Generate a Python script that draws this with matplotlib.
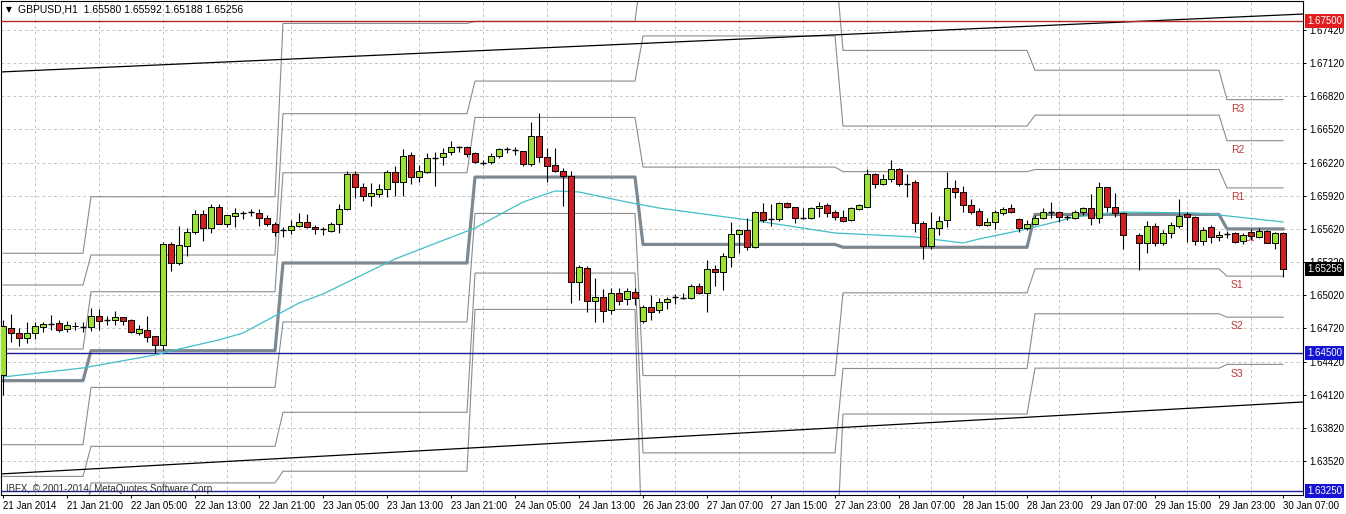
import numpy as np
import matplotlib.pyplot as plt
from matplotlib.transforms import blended_transform_factory

nan = np.nan

# GBPUSD H1 bars, 21 Jan 13:00 .. 30 Jan 07:00 (bar 141 missing)
opens = [
    1.64299, 1.64727, 1.64682, 1.64631, 1.64679, 1.64736, 1.64757, 1.64769, 1.64712, 1.64740,
    1.64736, 1.64731, 1.64836, 1.64797, 1.64797, 1.64821, 1.64797, 1.64682, 1.64706, 1.64652,
    1.64570, 1.65481, 1.65309, 1.65468, 1.65590, 1.65752, 1.65626, 1.65816, 1.65662, 1.65740,
    1.65761, 1.65770, 1.65761, 1.65722, 1.65662, 1.65610, 1.65610, 1.65649, 1.65680, 1.65635,
    1.65617, 1.65604, 1.65665, 1.65798, 1.66114, 1.65996, 1.65918, 1.65933, 1.65978, 1.66137,
    1.66047, 1.66289, 1.66087, 1.66137, 1.66264, 1.66268, 1.66313, 1.66358, 1.66364, 1.66304,
    1.66219, 1.66223, 1.66282, 1.66343, 1.66334, 1.66325, 1.66204, 1.66463, 1.66268, 1.66198,
    1.66144, 1.66101, 1.65138, 1.65264, 1.64971, 1.65002, 1.64887, 1.65038, 1.64986, 1.65052,
    1.64788, 1.64917, 1.64887, 1.64962, 1.65002, 1.64998, 1.64993, 1.65104, 1.65038, 1.65258,
    1.65228, 1.65369, 1.65574, 1.65610, 1.65460, 1.65776, 1.65707, 1.65707, 1.65852, 1.65816,
    1.65719, 1.65722, 1.65807, 1.65836, 1.65776, 1.65725, 1.65701, 1.65800, 1.65821, 1.66117,
    1.66024, 1.66069, 1.66159, 1.66026, 1.66047, 1.65671, 1.65468, 1.65626, 1.65701, 1.65987,
    1.65951, 1.65836, 1.65785, 1.65656, 1.65685, 1.65767, 1.65807, 1.65707, 1.65626, 1.65665,
    1.65716, 1.65776, 1.65770, 1.65725, 1.65716, 1.65776, 1.65807, 1.65716, 1.65996, 1.65816,
    1.65767, nan, 1.65565, 1.65490, 1.65647, 1.65490, 1.65580, 1.65650, 1.65755, 1.65725,
    1.65514, 1.65640, 1.65544, 1.65571, 1.65580, 1.65514, 1.65592, 1.65550, 1.65601, 1.65490,
    1.65580]
highs = [
    1.64797, 1.64851, 1.64724, 1.64779, 1.64779, 1.64779, 1.64842, 1.64797, 1.64788, 1.64779,
    1.64781, 1.64905, 1.64896, 1.64833, 1.64878, 1.64824, 1.64806, 1.64751, 1.64836, 1.64655,
    1.65505, 1.65505, 1.65647, 1.65631, 1.65791, 1.65791, 1.65845, 1.65845, 1.65746, 1.65807,
    1.65782, 1.65800, 1.65800, 1.65746, 1.65685, 1.65640, 1.65701, 1.65761, 1.65755, 1.65656,
    1.65640, 1.65685, 1.65843, 1.66144, 1.66144, 1.66033, 1.66033, 1.66024, 1.66153, 1.66189,
    1.66343, 1.66313, 1.66198, 1.66309, 1.66318, 1.66349, 1.66418, 1.66370, 1.66373, 1.66313,
    1.66243, 1.66304, 1.66355, 1.66364, 1.66358, 1.66325, 1.66584, 1.66666, 1.66355, 1.66349,
    1.66168, 1.66147, 1.65294, 1.65288, 1.65174, 1.65074, 1.65089, 1.65089, 1.65089, 1.65089,
    1.64932, 1.65023, 1.64993, 1.65007, 1.65029, 1.65038, 1.65119, 1.65128, 1.65339, 1.65294,
    1.65400, 1.65685, 1.65619, 1.65716, 1.65785, 1.65857, 1.65845, 1.65861, 1.65861, 1.65821,
    1.65807, 1.65816, 1.65866, 1.65852, 1.65791, 1.65791, 1.65816, 1.65845, 1.66159, 1.66128,
    1.66117, 1.66243, 1.66168, 1.66117, 1.66062, 1.65694, 1.65770, 1.65740, 1.66137, 1.66062,
    1.66008, 1.65888, 1.65807, 1.65716, 1.65791, 1.65816, 1.65845, 1.65716, 1.65701, 1.65746,
    1.65807, 1.65866, 1.65782, 1.65746, 1.65791, 1.65821, 1.65936, 1.66047, 1.66002, 1.65948,
    1.65776, nan, 1.65580, 1.65694, 1.65671, 1.65610, 1.65685, 1.65888, 1.65776, 1.65737,
    1.65640, 1.65656, 1.65601, 1.65601, 1.65595, 1.65580, 1.65619, 1.65626, 1.65610, 1.65595,
    1.65592]
lows = [
    1.64118, 1.64600, 1.64564, 1.64591, 1.64625, 1.64688, 1.64706, 1.64691, 1.64691, 1.64706,
    1.64691, 1.64700, 1.64706, 1.64751, 1.64751, 1.64749, 1.64676, 1.64661, 1.64600, 1.64495,
    1.64525, 1.65240, 1.65294, 1.65375, 1.65574, 1.65514, 1.65580, 1.65662, 1.65640, 1.65640,
    1.65710, 1.65740, 1.65649, 1.65649, 1.65559, 1.65550, 1.65571, 1.65640, 1.65626, 1.65571,
    1.65565, 1.65595, 1.65586, 1.65791, 1.65902, 1.65875, 1.65830, 1.65906, 1.65906, 1.65920,
    1.65920, 1.66024, 1.66042, 1.66123, 1.66008, 1.66198, 1.66289, 1.66318, 1.66268, 1.66214,
    1.66198, 1.66204, 1.66264, 1.66304, 1.66289, 1.66192, 1.66189, 1.66228, 1.66047, 1.66137,
    1.65827, 1.64948, 1.64977, 1.64866, 1.64781, 1.64781, 1.64849, 1.64932, 1.64932, 1.64932,
    1.64770, 1.64797, 1.64857, 1.64894, 1.64941, 1.64984, 1.64984, 1.65032, 1.64872, 1.65104,
    1.65068, 1.65273, 1.65405, 1.65430, 1.65445, 1.65680, 1.65647, 1.65692, 1.65807, 1.65677,
    1.65710, 1.65710, 1.65731, 1.65731, 1.65701, 1.65685, 1.65694, 1.65791, 1.65816, 1.65993,
    1.66017, 1.66047, 1.66008, 1.65911, 1.65595, 1.65345, 1.65439, 1.65565, 1.65635, 1.65897,
    1.65776, 1.65752, 1.65647, 1.65647, 1.65617, 1.65746, 1.65761, 1.65595, 1.65610, 1.65656,
    1.65707, 1.65716, 1.65685, 1.65701, 1.65707, 1.65746, 1.65656, 1.65677, 1.65776, 1.65725,
    1.65439, nan, 1.65249, 1.65405, 1.65466, 1.65475, 1.65535, 1.65626, 1.65505, 1.65475,
    1.65475, 1.65495, 1.65511, 1.65535, 1.65490, 1.65484, 1.65520, 1.65535, 1.65490, 1.65439,
    1.65188]
closes = [
    1.64743, 1.64676, 1.64631, 1.64682, 1.64742, 1.64760, 1.64757, 1.64706, 1.64749, 1.64744,
    1.64736, 1.64836, 1.64790, 1.64797, 1.64821, 1.64790, 1.64685, 1.64712, 1.64646, 1.64570,
    1.65481, 1.65309, 1.65475, 1.65590, 1.65752, 1.65626, 1.65816, 1.65662, 1.65746, 1.65761,
    1.65761, 1.65770, 1.65716, 1.65662, 1.65595, 1.65610, 1.65649, 1.65680, 1.65635, 1.65617,
    1.65617, 1.65665, 1.65798, 1.66114, 1.65996, 1.65918, 1.65942, 1.65978, 1.66137, 1.66042,
    1.66282, 1.66087, 1.66144, 1.66259, 1.66264, 1.66309, 1.66358, 1.66358, 1.66298, 1.66223,
    1.66219, 1.66282, 1.66343, 1.66343, 1.66334, 1.66204, 1.66463, 1.66268, 1.66192, 1.66144,
    1.66101, 1.65138, 1.65273, 1.64968, 1.65002, 1.64881, 1.65038, 1.64971, 1.65059, 1.64993,
    1.64914, 1.64866, 1.64957, 1.64984, 1.65002, 1.64998, 1.65104, 1.65038, 1.65258, 1.65228,
    1.65375, 1.65574, 1.65610, 1.65460, 1.65776, 1.65701, 1.65707, 1.65852, 1.65816, 1.65716,
    1.65719, 1.65807, 1.65827, 1.65767, 1.65725, 1.65694, 1.65807, 1.65836, 1.66117, 1.66024,
    1.66069, 1.66159, 1.66026, 1.66026, 1.65671, 1.65468, 1.65626, 1.65694, 1.65987, 1.65951,
    1.65836, 1.65776, 1.65656, 1.65685, 1.65776, 1.65800, 1.65776, 1.65626, 1.65665, 1.65716,
    1.65776, 1.65776, 1.65731, 1.65725, 1.65776, 1.65807, 1.65716, 1.65996, 1.65816, 1.65767,
    1.65565, nan, 1.65490, 1.65647, 1.65490, 1.65580, 1.65656, 1.65737, 1.65725, 1.65514,
    1.65610, 1.65544, 1.65565, 1.65571, 1.65499, 1.65565, 1.65556, 1.65601, 1.65495, 1.65586,
    1.65256]

time_labels = ['21 Jan 2014', '21 Jan 21:00', '22 Jan 05:00', '22 Jan 13:00', '22 Jan 21:00',
               '23 Jan 05:00', '23 Jan 13:00', '23 Jan 21:00', '24 Jan 05:00', '24 Jan 13:00',
               '26 Jan 23:00', '27 Jan 07:00', '27 Jan 15:00', '27 Jan 23:00', '28 Jan 07:00',
               '28 Jan 15:00', '28 Jan 23:00', '29 Jan 07:00', '29 Jan 15:00', '29 Jan 23:00',
               '30 Jan 07:00']
price_ticks = [1.63520, 1.63820, 1.64120, 1.64420, 1.64720, 1.65020, 1.65320,
               1.65620, 1.65920, 1.66220, 1.66520, 1.66820, 1.67120, 1.67420]

# daily pivot levels (first bar of each day)
day_start = [0, 11, 35, 59, 80, 105, 129, 153]
r3 = [1.65400, 1.65911, 1.67478, 1.67496, 1.68064, 1.67234, 1.67055, 1.66789]
r2 = [1.65113, 1.65384, 1.66662, 1.66957, 1.67365, 1.66550, 1.66649, 1.66418]
r1 = [1.64534, 1.65052, 1.66128, 1.66628, 1.66179, 1.66138, 1.66157, 1.65991]
pp = [1.64248, 1.64519, 1.65312, 1.66089, 1.65480, 1.65454, 1.65751, 1.65620]
s1 = [1.63669, 1.64187, 1.64779, 1.65760, 1.64294, 1.65042, 1.65259, 1.65193]
s2 = [1.63382, 1.63654, 1.63962, 1.65221, 1.63595, 1.64358, 1.64853, 1.64822]
s3 = [1.62807, 1.63323, 1.63429, 1.64892, 1.62409, 1.63946, 1.64361, 1.64395]

# moving average
ma_bars = [0, 10, 19, 22, 27, 30, 37, 40, 49, 59, 65, 69, 72, 78, 82, 95, 104,
           114, 120, 122, 128, 134, 140, 149, 152, 160]
ma_vals = [1.64281, 1.64363, 1.64480, 1.64534, 1.64616, 1.64679, 1.64950, 1.65032,
           1.65348, 1.65628, 1.65863, 1.65963, 1.65954, 1.65863, 1.65809, 1.65683,
           1.65583, 1.65547, 1.65493, 1.65529, 1.65619, 1.65728, 1.65773, 1.65764,
           1.65746, 1.65683]

# trend lines (two anchors each)
trend_bars = [-0.375, 162.5]
trend_upper = [1.67039, 1.67563]
trend_lower = [1.63404, 1.64055]

red_level = 1.67500
blue_levels = [1.64500, 1.63250]

plt.rcParams['font.family'] = ['Liberation Sans', 'DejaVu Sans']
plt.rcParams['font.size'] = 7

W, H = 1346, 514
fig = plt.figure(figsize=(W / 100, H / 100), dpi=100)
ax = fig.add_axes([1 / W, 19 / H, 1302 / W, 494 / H])
ax.set_xlim(-0.25, 162.5)
ax.set_ylim(1.63214, 1.67681)

o = np.array(opens)
h = np.array(highs)
l = np.array(lows)
c = np.array(closes)
idx = np.arange(len(o))
ok = ~np.isnan(o)

# grid
ax.set_xticks(np.arange(0, len(o), 8))
ax.set_xticklabels(time_labels, ha='left')
ax.set_xticks(np.arange(4, len(o), 8), minor=True)
ax.set_yticks(price_ticks)
ax.set_yticklabels([f'{v:.5f}' for v in price_ticks])
ax.yaxis.tick_right()
ax.grid(which='minor', axis='x', color='#c4c4c4', ls=(0, (3, 3)), lw=0.7)
ax.grid(which='major', axis='y', color='#c4c4c4', ls=(0, (3, 3)), lw=0.7)
ax.tick_params(which='major', direction='out', length=2.5, width=0.7, pad=2, colors='black')
ax.tick_params(which='minor', length=0)
for sp in ax.spines.values():
    sp.set_color('black')
    sp.set_linewidth(0.8)

# pivot levels
counts = np.diff(day_start + [len(o)])
for vals in (r3, r2, r1, s1, s2, s3):
    ax.plot(idx, np.repeat(vals, counts), color='#8c8c8c', lw=0.8, zorder=2)
ax.plot(idx, np.repeat(pp, counts), color='#7d8891', lw=2.3, zorder=2)

names = ['R3', 'R2', 'R1', 'Pivot', 'S1', 'S2', 'S3']
for name, vals in zip(names, (r3, r2, r1, pp, s1, s2, s3)):
    ax.annotate(name, (day_start[-1] + 0.5, vals[-1]), xytext=(0, -3),
                textcoords='offset points', ha='left', va='top',
                color='#c03a3a', fontsize=7.5, zorder=3)

# trend lines and horizontal levels
ax.axline((trend_bars[0], trend_upper[0]), (trend_bars[1], trend_upper[1]), color='black', lw=0.9, zorder=3)
ax.axline((trend_bars[0], trend_lower[0]), (trend_bars[1], trend_lower[1]), color='black', lw=0.9, zorder=3)
ax.axhline(red_level, color='#b02a2a', lw=1.0, zorder=3)
for v in blue_levels:
    ax.axhline(v, color='#1e1e96', lw=1.0, zorder=3)

# moving average
ax.plot(ma_bars, ma_vals, color='#3fbfc6', lw=0.9, zorder=3.5)

# candles
ax.vlines(idx[ok], l[ok], h[ok], color='black', lw=0.8, zorder=4)
up = ok & (c > o)
dn = ok & (c < o)
flat = ok & (c == o)
ax.bar(idx[up], (c - o)[up], bottom=o[up], width=0.72, color='#9be233',
       edgecolor='black', lw=0.7, zorder=5)
ax.bar(idx[dn], (o - c)[dn], bottom=c[dn], width=0.72, color='#d01f1f',
       edgecolor='black', lw=0.7, zorder=5)
ax.hlines(o[flat], idx[flat] - 0.36, idx[flat] + 0.36, color='black', lw=1.0, zorder=5)

# price boxes on the right scale
trans = blended_transform_factory(ax.transAxes, ax.transData)
def price_box(val, fc):
    ax.text(1.0 + 4 / 1302, val, f'{val:.5f}', transform=trans, color='white',
            fontsize=7, ha='left', va='center', clip_on=False, zorder=6,
            bbox=dict(boxstyle='square,pad=0.2', fc=fc, ec='none'))

price_box(red_level, '#e01e1e')
for v in blue_levels:
    price_box(v, '#1414d2')
price_box(c[-1], 'black')

# header and copyright
fig.text(6 / W, 1 - 10 / H, '\u25bc', fontsize=5.5, va='center', ha='left',
         family=['DejaVu Sans'])
fig.text(18 / W, 1 - 10 / H,
         f'GBPUSD,H1  {o[-1]:.5f} {h[-1]:.5f} {l[-1]:.5f} {c[-1]:.5f}',
         fontsize=7.5, va='center', ha='left')
fig.text(6 / W, 1 - 489 / H, 'IBFX, \u00a9 2001-2014, MetaQuotes Software Corp.',
         fontsize=7, va='center', ha='left', color='#303030')

fig.savefig('out.png', dpi=100, facecolor='white')
